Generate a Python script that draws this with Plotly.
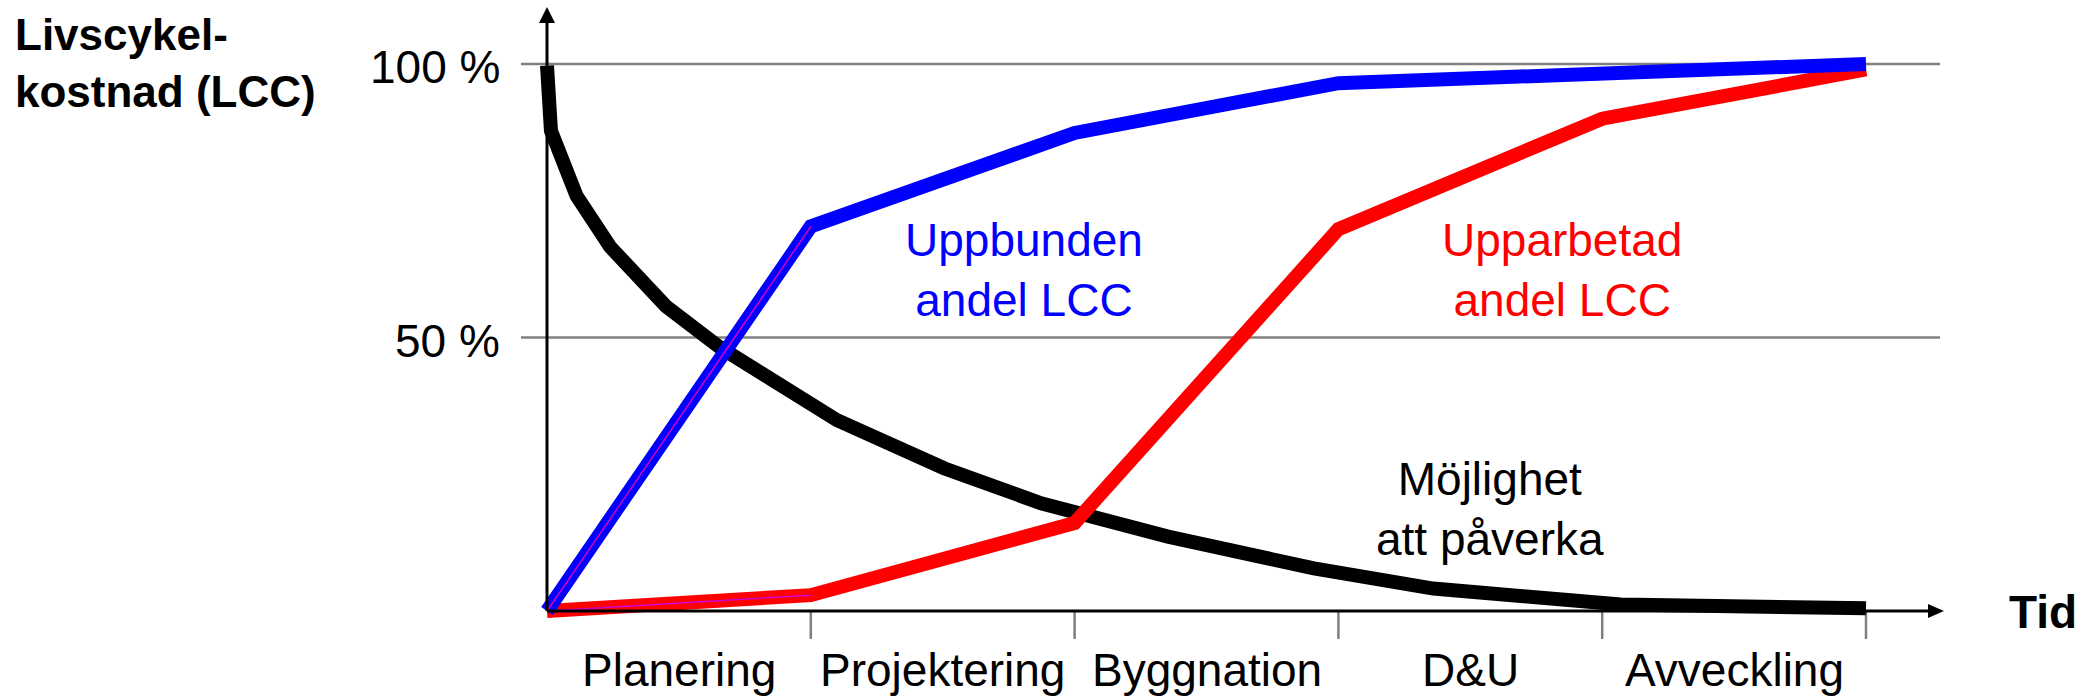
import plotly.graph_objects as go

# ---------------- data ----------------
phases = ["Planering", "Projektering", "Byggnation", "D&U", "Avveckling"]
phase_bounds = [1, 2, 3, 4, 5]

# Uppbunden andel LCC (blue)
blue_x = [0, 1, 2, 3, 5]
blue_y = [0, 70.3, 87.4, 96.5, 100]

# Upparbetad andel LCC (red)
red_x = [0, 1, 2, 3, 4, 5]
red_y = [0, 2.9, 16.1, 69.8, 90.0, 99.0]

# Möjlighet att påverka (black)
black_x = [0, 0.015, 0.112, 0.239, 0.451, 0.652, 1.099, 1.505, 1.873, 2.354, 2.907, 3.36, 4.07, 5.0]
black_y = [99.7, 87.8, 75.9, 66.6, 55.7, 48.3, 34.9, 26.1, 19.7, 13.6, 7.8, 4.1, 1.2, 0.5]

y_tick_vals = [50, 100]
y_tick_text = ["50 %", "100 %"]

series_labels = ["Uppbunden<br>andel LCC", "Upparbetad<br>andel LCC", "Möjlighet<br>att påverka"]
y_title = "Livscykel-<br>kostnad (LCC)"
x_title = "Tid"

# ---------------- geometry (pixel layout) ----------------
W, H = 2093, 700
X0PX, XSCALE = 547, 263.8    # pixel of phase 0, pixels per phase
Y0PX, YSCALE = 611, 5.47     # pixel of 0 %, pixels per percent


def dx(px):
    return (px - X0PX) / XSCALE


def dy(py):
    return (Y0PX - py) / YSCALE


FONT = "Liberation Sans, Arial, sans-serif"
BLUE, RED, BLACK, GREY = "#0000FF", "#FF0000", "#000000", "#808080"
LW = 14

fig = go.Figure()

fig.add_trace(go.Scatter(x=black_x, y=black_y, mode="lines",
                         line=dict(color=BLACK, width=LW), hoverinfo="skip"))
fig.add_trace(go.Scatter(x=red_x, y=red_y, mode="lines",
                         line=dict(color=RED, width=LW), hoverinfo="skip"))
fig.add_trace(go.Scatter(x=blue_x, y=blue_y, mode="lines",
                         line=dict(color=BLUE, width=LW), hoverinfo="skip"))
# thin magenta highlight along the first segments
fig.add_trace(go.Scatter(x=[blue_x[1], blue_x[0], red_x[1]],
                         y=[blue_y[1], blue_y[0], red_y[1]], mode="lines",
                         line=dict(color="#CC00CC", width=1.5), hoverinfo="skip"))

shapes = []
# horizontal grid lines
for v in y_tick_vals:
    shapes.append(dict(type="line", xref="x", yref="y", x0=dx(521), x1=dx(1940), y0=v, y1=v,
                       line=dict(color=GREY, width=2.5), layer="below"))
# axis lines
shapes.append(dict(type="line", xref="x", yref="y", x0=0, x1=0, y0=0, y1=dy(20),
                   line=dict(color=BLACK, width=3)))
shapes.append(dict(type="line", xref="x", yref="y", x0=0, x1=dx(1930), y0=0, y1=0,
                   line=dict(color=BLACK, width=3)))
# arrow heads
shapes.append(dict(type="path", xref="x", yref="y",
                   path=f"M {dx(539)},{dy(23)} L {dx(555)},{dy(23)} L {dx(547)},{dy(7)} Z",
                   fillcolor=BLACK, line=dict(color=BLACK, width=0)))
shapes.append(dict(type="path", xref="x", yref="y",
                   path=f"M {dx(1928)},{dy(604)} L {dx(1928)},{dy(618)} L {dx(1944)},{dy(611)} Z",
                   fillcolor=BLACK, line=dict(color=BLACK, width=0)))
# phase boundary ticks
for b in phase_bounds:
    shapes.append(dict(type="line", xref="x", yref="y", x0=b, x1=b, y0=0, y1=dy(639),
                       line=dict(color=GREY, width=2.5), layer="below"))

annotations = []
# y tick labels
for v, t in zip(y_tick_vals, y_tick_text):
    annotations.append(dict(x=dx(502), y=v - 0.6, xref="x", yref="y", text=t, showarrow=False,
                            xanchor="right", yanchor="middle",
                            font=dict(family=FONT, size=46, color=BLACK)))
# phase labels
for i, name in enumerate(phases):
    annotations.append(dict(x=i + 0.5, y=dy(670), xref="x", yref="y", text=name, showarrow=False,
                            xanchor="center", yanchor="middle",
                            font=dict(family=FONT, size=46, color=BLACK)))
# series labels
for txt, col, (cx, cy) in zip(series_labels, [BLUE, RED, BLACK],
                              [(1024, 270), (1562, 270), (1490, 509)]):
    annotations.append(dict(x=dx(cx), y=dy(cy), xref="x", yref="y", text=txt, showarrow=False,
                            xanchor="center", yanchor="middle", align="center",
                            font=dict(family=FONT, size=46, color=col)))
# axis titles
annotations.append(dict(x=dx(13), y=dy(63), xref="x", yref="y", text=f"<b>{y_title}</b>",
                        showarrow=False, xanchor="left", yanchor="middle", align="left",
                        font=dict(family=FONT, size=44, color=BLACK)))
annotations.append(dict(x=dx(2007), y=dy(612), xref="x", yref="y", text=f"<b>{x_title}</b>",
                        showarrow=False, xanchor="left", yanchor="middle",
                        font=dict(family=FONT, size=46, color=BLACK)))

fig.update_layout(
    width=W, height=H,
    margin=dict(l=0, r=0, t=0, b=0),
    paper_bgcolor="white", plot_bgcolor="white",
    showlegend=False,
    xaxis=dict(range=[dx(0), dx(W)], visible=False, fixedrange=True),
    yaxis=dict(range=[dy(H), dy(0)], visible=False, fixedrange=True),
    shapes=shapes,
    annotations=annotations,
)

fig.write_html("out.html", config={"displayModeBar": False},
               post_script="document.body.style.margin='0';document.body.style.overflow='hidden';")
